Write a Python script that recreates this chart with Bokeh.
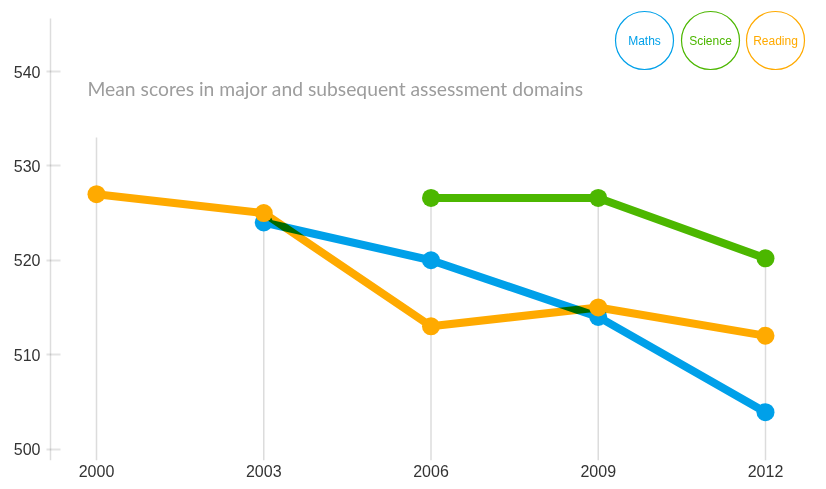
import numpy as np
from bokeh.plotting import figure
from bokeh.document import Document
from bokeh.models import ColumnDataSource, FixedTicker, Range1d, CustomJS
from bokeh.events import DocumentReady
from bokeh.core.properties import value
from bokeh.embed import file_html
from bokeh.resources import INLINE

# ---- data ----
years = [2000, 2003, 2006, 2009, 2012]
maths = [np.nan, 524.0, 520.0, 514.0, 503.9]
reading = [527.0, 525.0, 513.0, 515.0, 512.0]
science = [np.nan, np.nan, 526.6, 526.6, 520.2]
guide_top_2000 = 533.0
y_ticks = [500, 510, 520, 530, 540]
series_names = ["Maths", "Science", "Reading"]
title_text = "Mean scores in major and subsequent assessment domains"

BLUE = "#00a0e9"
GREEN = "#4cb700"
ORANGE = "#ffaa00"

# ---- layout (pixels) ----
W, H = 826, 489
FRAME_L = 46
FRAME_B = 460
px_per_year = (765 - 96) / 12.0
px_per_unit = (448.5 - 71.0) / 40.0
x0 = 2000 - (96 - FRAME_L) / px_per_year
x1 = 2000 + (W - 96) / px_per_year
y1 = 540 + 71.0 / px_per_unit
y0 = 540 - (FRAME_B - 71.0) / px_per_unit


def X(px):
    return 2000 + (px - 96) / px_per_year


def Y(py):
    return 540 - (py - 71.0) / px_per_unit


p = figure(width=W, height=H, output_backend="svg", toolbar_location=None,
           x_range=Range1d(x0, x1), y_range=Range1d(y0, y1),
           min_border_left=FRAME_L, min_border_right=0, min_border_top=0,
           min_border_bottom=H - FRAME_B)
p.outline_line_color = None
p.grid.visible = False
p.background_fill_color = "white"
p.border_fill_color = "white"

# y axis
ya = p.yaxis[0]
ya.ticker = FixedTicker(ticks=y_ticks)
ya.axis_line_color = None
ya.major_tick_in = 14
ya.major_tick_out = 0
ya.minor_tick_line_color = None
ya.major_tick_line_color = "#e3e3e3"
ya.major_tick_line_width = 2
ya.major_label_standoff = 6
ya.major_label_text_font = "Liberation Sans"
ya.major_label_text_font_size = "16px"
ya.major_label_text_color = "#333333"

# x axis
xa = p.xaxis[0]
xa.ticker = FixedTicker(ticks=years)
xa.axis_line_color = None
xa.major_tick_in = 0
xa.major_tick_out = 0
xa.minor_tick_line_color = None
xa.major_label_standoff = 4
xa.major_label_text_font = "Liberation Sans"
xa.major_label_text_font_size = "16px"
xa.major_label_text_color = "#333333"

# axis line drawn manually (from top at 18px)
p.segment(x0=[X(50)], y0=[Y(18)], x1=[X(50)], y1=[y0], line_color="#dddddd", line_width=1.5)

# vertical guide lines from the top value of each year downwards
tops = []
for i, yr in enumerate(years):
    vals = [v for v in (maths[i], reading[i], science[i]) if not np.isnan(v)]
    tops.append(max(vals))
tops[0] = guide_top_2000
p.segment(x0=years, y0=tops, x1=years, y1=[y0] * len(years), line_color="#dcdcdc", line_width=1.5)

# series
for vals, col in ((maths, BLUE), (reading, ORANGE), (science, GREEN)):
    src = ColumnDataSource(dict(x=[y for y, v in zip(years, vals) if not np.isnan(v)],
                                y=[v for v in vals if not np.isnan(v)]))
    p.line("x", "y", source=src, line_color=col, line_width=8, line_join="round")
    p.scatter("x", "y", source=src, size=18, fill_color=col, line_color=None)

# title text
p.text(x=[X(87)], y=[Y(88)], text=[title_text], text_font=value("Lato"),
       text_font_size="19.3px", text_color="#9d9d9d", text_baseline="middle", text_align="left")

# legend circles
leg_px = [644, 710, 775]
leg_cols = [BLUE, GREEN, ORANGE]
p.scatter(x=[X(v) for v in leg_px], y=[Y(40)] * 3, size=58, fill_color="white",
          line_color=leg_cols, line_width=1.2)
p.text(x=[X(v) for v in leg_px], y=[Y(40)] * 3, text=series_names, text_color=leg_cols,
       text_font=value("Liberation Sans"), text_font_size="12px",
       text_align="center", text_baseline="middle")

# multiply blending of overlapping line strokes (as in the original);
# filled marks (points, text, background) keep normal blending
blend_js = """
function filled(el){
  var f = el.getAttribute && el.getAttribute('fill');
  return f && f !== 'none';
}
function walk(root){
  root.querySelectorAll('*').forEach(function(el){
    if (el.shadowRoot) walk(el.shadowRoot);
    if (!(el instanceof SVGElement)) return;
    var tag = el.tagName.toLowerCase();
    if (tag === 'svg' || tag === 'defs' || tag === 'clippath') return;
    if (el.closest && el.closest('defs')) return;
    var hasFill = filled(el) || !!el.querySelector('[fill]:not([fill="none"])');
    if (!hasFill) el.style.mixBlendMode = 'multiply';
  });
}
var n = 0;
var t = setInterval(function(){ walk(document); n += 1; if (n > 80) clearInterval(t); }, 40);
"""
doc = Document()
doc.add_root(p)
doc.js_on_event(DocumentReady, CustomJS(code=blend_js))

open("out.html", "w").write(file_html(doc, INLINE))
